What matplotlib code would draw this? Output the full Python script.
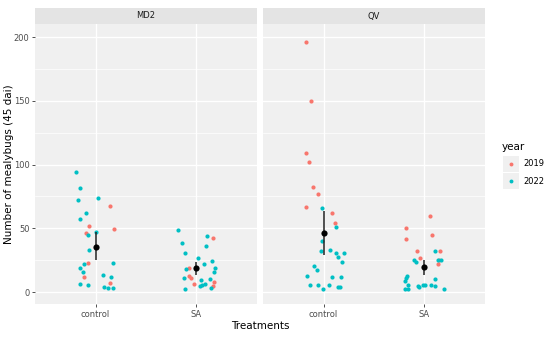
import numpy as np
import matplotlib.pyplot as plt

panels = ["MD2", "QV"]
treatments = ["control", "SA"]
years = ["2019", "2022"]

# counts, with the horizontal jitter of each dot
md2_control_2019 = [67.8, 49.5, 51.8, 46.0, 22.8, 12.0, 6.8]
md2_control_2019_dx = [0.142, 0.185, -0.066, -0.099, -0.079, -0.116, 0.142]
md2_control_2022 = [94.5, 81.9, 72.0, 74.0, 62.3, 57.0, 47.4, 44.7, 33.2, 22.8,
                    22.2, 19.1, 16.0, 13.3, 11.8, 6.3, 5.2, 4.2, 3.4, 3.4]
md2_control_2022_dx = [-0.195, -0.158, -0.175, 0.026, -0.096, -0.152, 0.0, -0.079, -0.066, 0.172,
                       -0.116, -0.152, -0.125, 0.069, 0.155, -0.152, -0.079, 0.086, 0.125, 0.172]
md2_sa_2019 = [42.6, 18.8, 12.3, 11.0, 6.0, 8.1, 4.7]
md2_sa_2019_dx = [0.168, -0.076, -0.069, -0.053, -0.020, 0.172, 0.162]
md2_sa_2022 = [48.9, 38.7, 30.4, 44.0, 36.4, 26.4, 24.1, 21.7, 17.8, 18.6,
               15.4, 11.3, 10.5, 9.7, 6.0, 4.4, 5.2, 3.1, 2.4]
md2_sa_2022_dx = [-0.182, -0.142, -0.112, 0.106, 0.096, 0.020, 0.155, 0.073, -0.102, 0.188,
                  0.175, -0.125, 0.135, 0.046, 0.083, 0.040, 0.056, 0.145, -0.112]

qv_control_2019 = [196.2, 149.7, 109.4, 102.0, 82.2, 76.9, 66.7, 62.3, 54.4]
qv_control_2019_dx = [-0.172, -0.122, -0.172, -0.149, -0.106, -0.056, -0.178, 0.079, 0.109]
qv_control_2022 = [66.2, 51.3, 40.0, 32.4, 33.0, 30.4, 30.9, 27.2, 23.5, 20.7,
                   17.3, 12.6, 12.0, 12.0, 5.8, 5.2, 5.2, 4.2, 4.2, 2.4]
qv_control_2022_dx = [-0.013, 0.125, -0.013, -0.026, 0.066, 0.125, 0.205, 0.145, 0.182, -0.092,
                      -0.063, -0.162, 0.086, 0.172, -0.135, -0.056, 0.053, 0.142, 0.162, -0.007]
qv_sa_2019 = [59.4, 50.2, 45.0, 41.6, 32.4, 32.2, 26.7, 25.4, 21.7]
qv_sa_2019_dx = [0.059, -0.178, 0.079, -0.178, -0.069, 0.158, -0.040, 0.149, 0.139]
qv_sa_2022 = [32.2, 25.1, 23.8, 25.1, 25.1, 12.6, 10.7, 8.9, 10.5, 5.2,
              2.6, 2.6, 4.4, 3.9, 5.2, 5.2, 5.8, 4.7, 2.4]
qv_sa_2022_dx = [0.102, -0.099, -0.083, 0.165, 0.132, -0.172, -0.185, -0.188, 0.109, -0.162,
                 -0.188, -0.168, -0.066, -0.050, -0.010, 0.010, 0.063, 0.109, 0.198]

# mean and error bar per panel (control, SA)
md2_mean = [35.6, 18.6]
md2_low = [25.1, 13.1]
md2_high = [46.8, 23.8]
qv_mean = [46.6, 19.4]
qv_low = [28.8, 13.6]
qv_high = [63.6, 25.1]

points = {
    "MD2": [(md2_control_2019, md2_control_2019_dx, md2_control_2022, md2_control_2022_dx),
            (md2_sa_2019, md2_sa_2019_dx, md2_sa_2022, md2_sa_2022_dx)],
    "QV": [(qv_control_2019, qv_control_2019_dx, qv_control_2022, qv_control_2022_dx),
           (qv_sa_2019, qv_sa_2019_dx, qv_sa_2022, qv_sa_2022_dx)],
}
summary = {"MD2": (md2_mean, md2_low, md2_high), "QV": (qv_mean, qv_low, qv_high)}

red = "#F8766D"
cyan = "#00BFC4"
panel_bg = "#F0F0F0"
strip_bg = "#E4E4E4"

fig = plt.figure(figsize=(5.5, 3.37), dpi=100)
W, H = 550, 337
bottom, top = 304, 24
lefts = [35, 263]
pw = 222

for i, name in enumerate(panels):
    ax = fig.add_axes([lefts[i] / W, 1 - bottom / H, pw / W, (bottom - top) / H])
    ax.set_facecolor(panel_bg)
    for s in ax.spines.values():
        s.set_visible(False)
    ax.set_xlim(0.4, 2.6)
    ax.set_ylim(-9.4, 210.4)
    ax.set_yticks([0, 50, 100, 150, 200])
    ax.set_yticks([25, 75, 125, 175], minor=True)
    ax.set_xticks([1, 2])
    ax.set_xticklabels(treatments)
    ax.grid(True, which="major", color="white", lw=1.0)
    ax.grid(True, which="minor", axis="y", color="white", lw=0.5)
    ax.set_axisbelow(True)
    ax.tick_params(which="major", length=2.5, width=0.6, color="#333333",
                   labelsize=6, labelcolor="#4D4D4D", pad=1.5)
    ax.tick_params(which="minor", length=0)
    if i > 0:
        ax.tick_params(axis="y", which="both", left=False, labelleft=False)

    for j, (v19, dx19, v22, dx22) in enumerate(points[name]):
        x = j + 1
        ax.scatter(x + np.array(dx19), v19, s=9, color=red, lw=0, zorder=3)
        ax.scatter(x + np.array(dx22), v22, s=9, color=cyan, lw=0, zorder=3)

    mean, low, high = summary[name]
    xs = np.arange(1, 3)
    ax.vlines(xs, low, high, color="#222222", lw=1.1, zorder=4)
    ax.scatter(xs, mean, s=20, color="black", lw=0, zorder=5)

    # facet strip
    sax = fig.add_axes([lefts[i] / W, 1 - top / H, pw / W, 16 / H])
    sax.set_facecolor(strip_bg)
    sax.set_xticks([])
    sax.set_yticks([])
    for s in sax.spines.values():
        s.set_visible(False)
    sax.text(0.5, 0.5, name, ha="center", va="center", fontsize=6, color="#1A1A1A",
             transform=sax.transAxes)

fig.text(260 / W, 1 - 326 / H, "Treatments", ha="center", va="center", fontsize=7.5)
fig.text(9 / W, 1 - 164 / H, "Number of mealybugs (45 dai)", ha="center", va="center",
         rotation=90, fontsize=7.5)

# legend
fig.text(502 / W, 1 - 147 / H, "year", ha="left", va="center", fontsize=7.5)
for k, (lab, col) in enumerate(zip(years, [red, cyan])):
    yk = 164 + 17 * k
    fig.patches.append(plt.Rectangle((503 / W, 1 - (yk + 8) / H), 16 / W, 16 / H,
                                     transform=fig.transFigure, color=panel_bg, lw=0))
    fig.add_artist(plt.Line2D([511 / W], [1 - yk / H], marker="o", ms=2.8, color=col,
                              mew=0, lw=0, transform=fig.transFigure))
    fig.text(523 / W, 1 - yk / H, lab, ha="left", va="center", fontsize=6)

fig.savefig("out.png", dpi=100)
